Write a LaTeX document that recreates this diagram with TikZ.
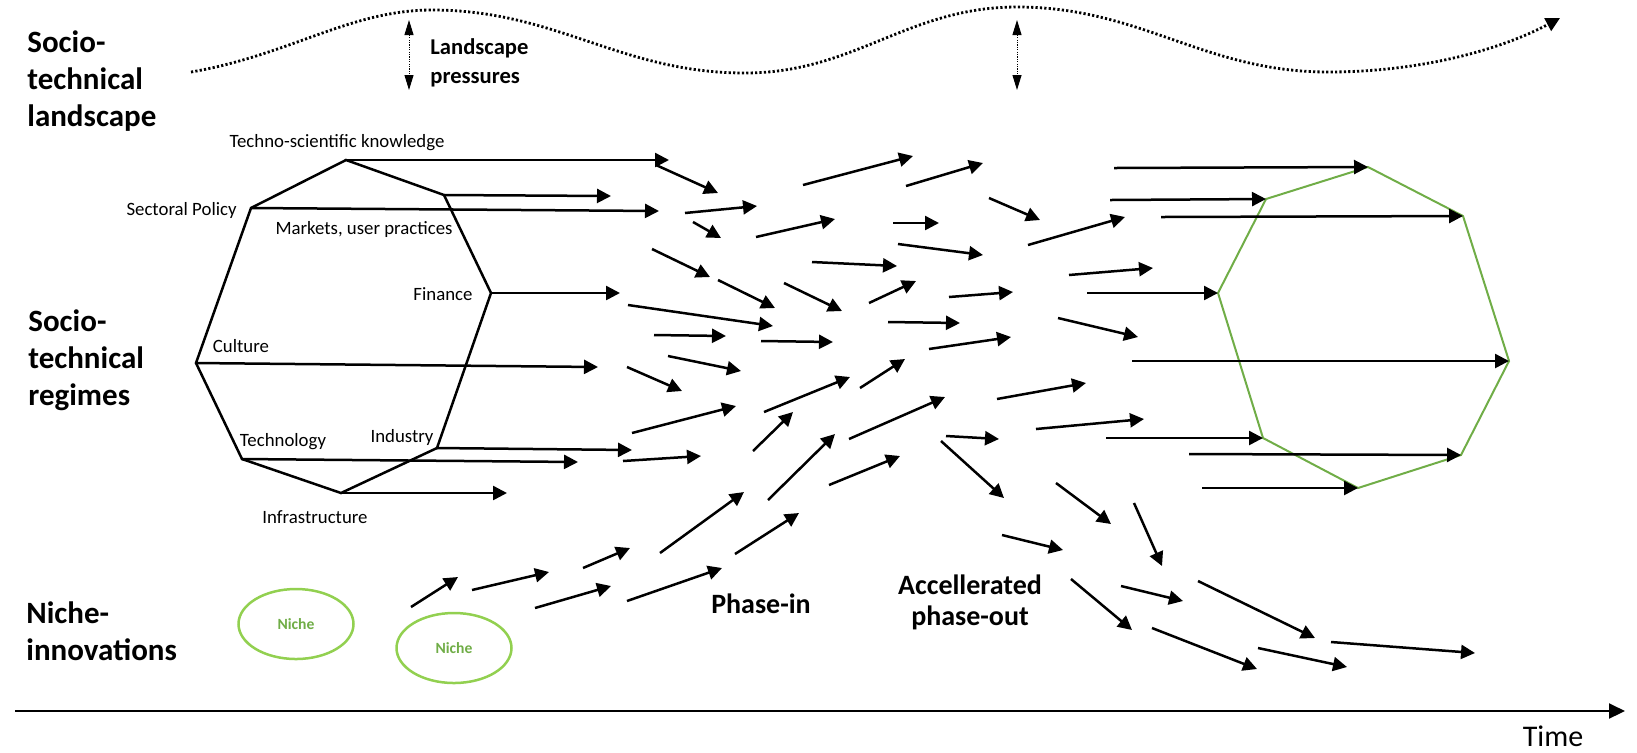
\documentclass[tikz,border=0pt]{standalone}
\usepackage{fontspec}
\setmainfont{Carlito}
\usetikzlibrary{arrows.meta, shapes.geometric}

\definecolor{regimegreen}{RGB}{112,173,71}
\definecolor{nichegreen}{RGB}{146,208,80}

\tikzset{
  flow/.style={line width=1.25pt, -{Triangle[length=7pt,width=7pt]}},
  octa/.style={line width=1.25pt, line join=miter},
  smalllabel/.style={font=\fontsize{9.4}{11}\selectfont, inner sep=0pt},
  level/.style={font=\bfseries\fontsize{15.5}{18.5}\selectfont, align=left, anchor=west, inner sep=0pt},
  phase/.style={font=\bfseries\fontsize{14}{15.5}\selectfont, align=center, inner sep=0pt},
  pressure/.style={line width=0.5pt, dash pattern=on 0.6pt off 0.6pt,
    {Triangle[length=7.5pt,width=4.5pt]}-{Triangle[length=7.5pt,width=4.5pt]}},
  niche/.style={ellipse, draw=nichegreen, line width=1.25pt, inner sep=0pt,
    minimum width=57.5pt, minimum height=35pt,
    text=regimegreen, font=\bfseries\fontsize{7.8}{9}\selectfont},
}

\begin{document}
\begin{tikzpicture}[x=0.5pt, y=-0.5pt]
  \useasboundingbox (0,0) rectangle (1637,752);

  % levels
  \node[level] (landscape) at (27,81) {Socio-\\technical\\landscape};
  \node[level] (regimes) at (28,360) {Socio-\\technical\\regimes};
  \node[level] (niches) at (26,631) {Niche-\\innovations};

  % landscape
  \draw[line width=1.4pt, dash pattern=on 1.1pt off 1.1pt, -{Triangle[length=7pt,width=7pt]}]
    (191,72) .. controls (290,55) and (350,10) .. (432,10)
    to[out=0,in=180] (745,73) to[out=0,in=180] (1017,7)
    to[out=0,in=180] (1328,72) .. controls (1420,72) and (1500,50) .. (1560,18);
  \coordinate (p1a) at (409,20);
  \coordinate (p1b) at (409,90);
  \coordinate (p2a) at (1017,20);
  \coordinate (p2b) at (1017,90);
  \draw[pressure] (p1a) -- (p1b);
  \draw[pressure] (p2a) -- (p2b);
  \node[font=\bfseries\fontsize{11.3}{14.5}\selectfont, align=left, anchor=west, inner sep=0pt]
    (pressures) at (430,63) {Landscape\\pressures};

  % old regime
  \coordinate (tk) at (346,160);
  \coordinate (mk) at (444,195);
  \coordinate (fi) at (491,293);
  \coordinate (ind) at (437,448);
  \coordinate (ifr) at (341,493);
  \coordinate (te) at (242,459);
  \coordinate (cu) at (196,363);
  \coordinate (sp) at (251,208);
  \draw[octa] (tk) -- (mk) -- (fi) -- (ind) -- (ifr) -- (te) -- (cu) -- (sp) -- cycle;

  \node[smalllabel] at (337,143) {Techno-scientific knowledge};
  \node[smalllabel, anchor=east] at (237,210) {Sectoral Policy};
  \node[smalllabel] at (364,229) {Markets, user practices};
  \node[smalllabel] at (443,294) {Finance};
  \node[smalllabel] at (241,346) {Culture};
  \node[smalllabel] at (283,442) {Technology};
  \node[smalllabel] at (402,437) {Industry};
  \node[smalllabel] at (315,517) {Infrastructure};

  \draw[flow] (tk) -- (669,160);
  \draw[flow] (mk) -- (611,196);
  \draw[flow] (sp) -- (659,211);
  \draw[flow] (fi) -- (620,293);
  \draw[flow] (cu) -- (598,367);
  \draw[flow] (ind) -- (632,450);
  \draw[flow] (te) -- (578,462);
  \draw[flow] (ifr) -- (507,493);

  % new regime
  \coordinate (n1) at (1368,167);
  \coordinate (n2) at (1463,216);
  \coordinate (n3) at (1509,361);
  \coordinate (n4) at (1461,455);
  \coordinate (n5) at (1358,488);
  \coordinate (n6) at (1263,438);
  \coordinate (n7) at (1218,293);
  \coordinate (n8) at (1266,199);
  \draw[octa, draw=regimegreen, line width=1pt] (n1) -- (n2) -- (n3) -- (n4) -- (n5) -- (n6) -- (n7) -- (n8) -- cycle;

  \draw[flow] (1114,168) -- (n1);
  \draw[flow] (1161,217) -- (n2);
  \draw[flow] (1132,361) -- (n3);
  \draw[flow] (1189,454) -- (n4);
  \draw[flow] (1202,488) -- (n5);
  \draw[flow] (1106,438) -- (n6);
  \draw[flow] (1087,293) -- (n7);
  \draw[flow] (1110,200) -- (n8);

  % transition arrows
  \foreach \xa/\ya/\xb/\yb in {
    656/165/718/193, 685/213/757/206, 693/222/721/238, 803/185/913/156,
    906/186/983/163, 989/198/1040/220, 756/237/835/219, 893/223/939/223,
    898/244/983/255, 1028/245/1125/217, 812/262/897/266, 652/249/710/277,
    718/280/775/308, 784/283/842/311, 869/303/916/281, 949/297/1013/292,
    1069/275/1153/268, 628/305/773/326, 654/335/726/336, 761/341/833/342,
    888/322/960/323, 929/349/1011/337, 1058/318/1138/337, 668/356/741/371,
    627/367/682/391, 632/433/736/406, 764/412/850/377, 860/388/905/359,
    997/399/1086/383, 1036/429/1144/419, 753/451/793/412, 623/461/701/456,
    849/439/945/397, 946/436/999/439, 768/500/835/434, 941/441/1004/498,
    829/485/900/456, 660/553/744/492, 735/554/799/513, 1056/483/1111/524,
    1134/503/1162/566, 1002/535/1063/550, 1071/579/1132/630, 1121/586/1183/601,
    1198/581/1315/638, 1152/628/1257/669, 1258/648/1347/667, 1331/642/1475/653,
    411/607/458/577, 472/590/549/572, 583/568/630/548, 535/608/611/586,
    627/601/722/568}
    \draw[flow] (\xa,\ya) -- (\xb,\yb);

  % niches
  \node[niche] (niche1) at (296,624) {Niche};
  \node[niche] (niche2) at (454,648) {Niche};

  \node[phase] (phasein) at (761,604) {Phase-in};
  \node[phase] (phaseout) at (970,602) {Accellerated\\phase-out};

  % time
  \coordinate (t0) at (15,711);
  \coordinate (t1) at (1625,711);
  \draw[line width=1pt, -{Triangle[length=8pt,width=7.5pt]}] (t0) -- (t1);
  \node[font=\fontsize{15}{18}\selectfont, inner sep=0pt] (time) at (1553,736) {Time};
\end{tikzpicture}
\end{document}
